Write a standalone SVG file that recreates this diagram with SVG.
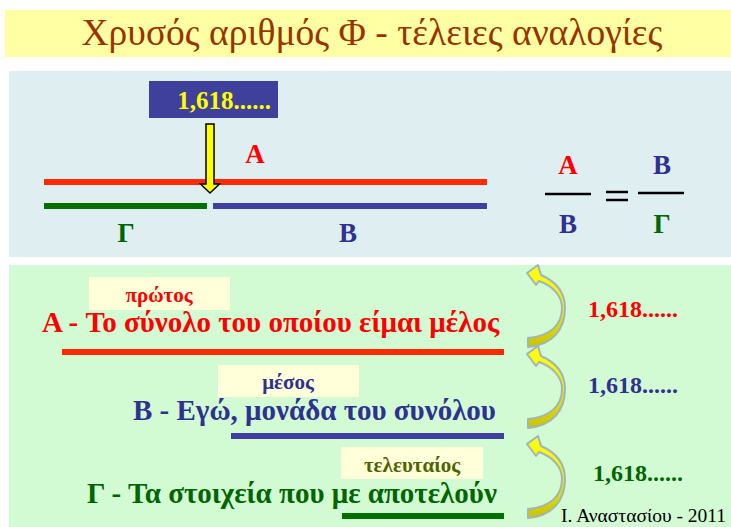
<svg xmlns="http://www.w3.org/2000/svg" xmlns:xlink="http://www.w3.org/1999/xlink" width="731" height="527" viewBox="0 0 731 527">
<defs>
<style>
.t{font-family:"Liberation Serif","Times New Roman",serif;font-weight:bold}
.red{fill:#ff0000}.blu{fill:#2e3192}.grn{fill:#006600}
.lbl{fill:#ffffd9}
.big{font-size:27px}
.row{font-size:29px}
.sm{font-size:21px}
.num{font-size:24px}
.carr{fill:url(#yg);stroke:#9fb4be;stroke-width:2;stroke-linejoin:round}
</style>
<linearGradient id="yg" x1="0" y1="0" x2="0" y2="1">
<stop offset="0" stop-color="#ffff10"/>
<stop offset="0.5" stop-color="#f4f000"/>
<stop offset="1" stop-color="#c9c200"/>
</linearGradient>
</defs>
<rect width="731" height="527" fill="#ffffff"/>
<g id="title">
<rect x="5" y="10" width="726" height="47" fill="#ffffa3"/>
<text x="372" y="45" text-anchor="middle" font-family="'Liberation Serif','Times New Roman',serif" font-size="37.5" fill="#993300">Χρυσός αριθμός Φ - τέλειες αναλογίες</text>
</g>
<g id="top-panel">
<rect x="9" y="71" width="722" height="186" fill="#dfeff1"/>
</g>
<g id="value-box">
<rect x="149" y="81" width="129" height="37" fill="#3e409b"/>
<text x="224" y="109" text-anchor="middle" class="t" font-size="25" fill="#ffff00">1,618......</text>
</g>
<g id="segments">
<line x1="44" y1="182" x2="487" y2="182" stroke="#ff2a00" stroke-width="6"/>
<line x1="44" y1="206" x2="207" y2="206" stroke="#007000" stroke-width="6"/>
<line x1="213" y1="206" x2="487" y2="206" stroke="#3f3f9f" stroke-width="6"/>
<text x="255" y="163" text-anchor="middle" class="t big red">A</text>
<text x="126" y="242" text-anchor="middle" class="t big grn">Γ</text>
<text x="348" y="242" text-anchor="middle" class="t big blu">B</text>
</g>
<g id="ratio">
<text x="568" y="174" text-anchor="middle" class="t big red">A</text>
<line x1="545" y1="194" x2="591" y2="194" stroke="#000" stroke-width="2.5"/>
<text x="568" y="233" text-anchor="middle" class="t big blu">B</text>
<line x1="606" y1="192" x2="628" y2="192" stroke="#000" stroke-width="2.5"/>
<line x1="606" y1="200" x2="628" y2="200" stroke="#000" stroke-width="2.5"/>
<text x="662" y="174" text-anchor="middle" class="t big blu">B</text>
<line x1="638" y1="193" x2="684" y2="193" stroke="#000" stroke-width="2.5"/>
<text x="662" y="233" text-anchor="middle" class="t big grn">Γ</text>
</g>
<g id="bottom-panel">
<rect x="9" y="265" width="722" height="262" fill="#d2fbd3"/>
</g>
<g id="row-a">
<rect x="89" y="277" width="141" height="33" class="lbl"/>
<text x="159" y="302" text-anchor="middle" class="t sm red">πρώτος</text>
<text x="42" y="332" class="t row red">A - Το σύνολο του οποίου είμαι μέλος</text>
<line x1="62" y1="352" x2="504" y2="352" stroke="#ff2a00" stroke-width="6"/>
<text x="588" y="317" class="t num red">1,618......</text>
</g>
<g id="row-b">
<rect x="218" y="365" width="141" height="32" class="lbl"/>
<text x="288" y="389" text-anchor="middle" class="t sm blu">μέσος</text>
<text x="133" y="420" class="t row blu">B - Εγώ, μονάδα του συνόλου</text>
<line x1="231" y1="436" x2="504" y2="436" stroke="#3f3f9f" stroke-width="6"/>
<text x="588" y="393" class="t num blu">1,618......</text>
</g>
<g id="row-c">
<rect x="341" y="447" width="142" height="32" class="lbl"/>
<text x="412" y="472" text-anchor="middle" class="t sm" fill="#4f6200">τελευταίος</text>
<text x="87" y="503" class="t row grn">Γ - Τα στοιχεία που με αποτελούν</text>
<line x1="342" y1="516" x2="504" y2="516" stroke="#007000" stroke-width="6"/>
<text x="593" y="481" class="t num grn">1,618......</text>
</g>
<g id="connectors">
<path d="M206,124 H214 V184 H219.5 L210,193 L200.5,184 H206 Z" fill="#ffff00" stroke="#000000" stroke-width="1.5" stroke-linejoin="miter"/>
<path class="carr" d="M528,347 C553,345 565,329 565,308 C565,293 557,282 541,275 L538,265 L527,273 L536,285 L539,281 C553,286 562,296 562,308 C562,325 550,336 528,338 Z"/>
<path class="carr" transform="translate(0,81)" d="M528,347 C553,345 565,329 565,308 C565,293 557,282 541,275 L538,265 L527,273 L536,285 L539,281 C553,286 562,296 562,308 C562,325 550,336 528,338 Z"/>
<path class="carr" transform="translate(0,171)" d="M528,347 C553,345 565,329 565,308 C565,293 557,282 541,275 L538,265 L527,273 L536,285 L539,281 C553,286 562,296 562,308 C562,325 550,336 528,338 Z"/>
</g>
<g id="author">
<text x="561" y="522" font-family="'Liberation Serif','Times New Roman',serif" font-size="19.5" fill="#000">Ι. Αναστασίου - 2011</text>
</g>
</svg>
